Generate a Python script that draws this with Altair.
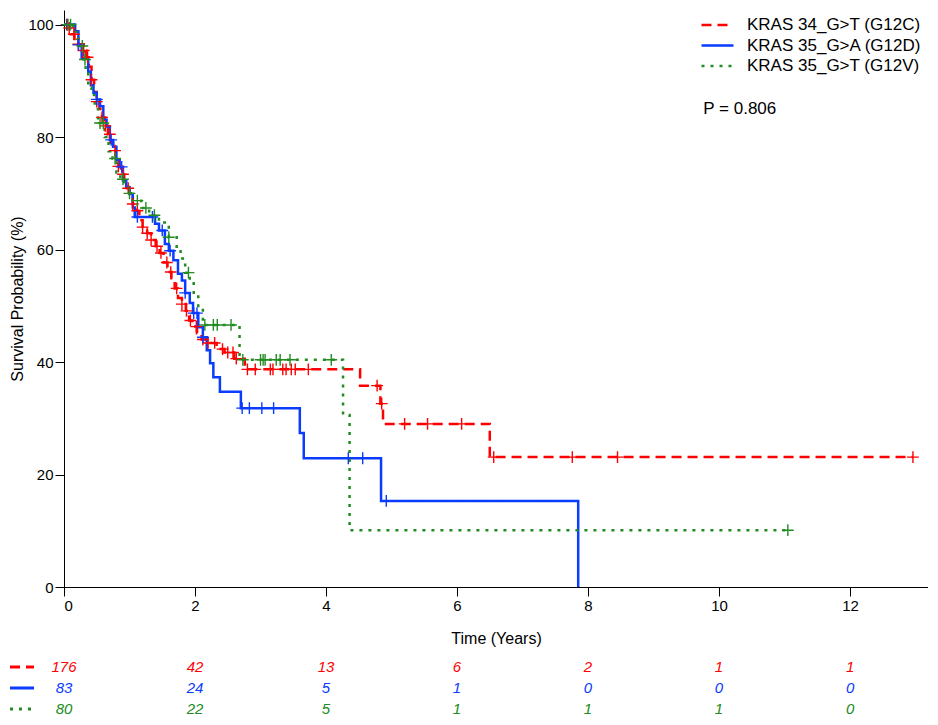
import altair as alt
import pandas as pd

groups = ["KRAS 34_G>T (G12C)", "KRAS 35_G>A (G12D)", "KRAS 35_G>T (G12V)"]
colors = ["#ff0000", "#0a3cff", "#228b22"]
dashes = [[10, 6], [1, 0], [3, 6]]

# Kaplan-Meier step points (time in years, survival %)
g12c_t = [0, 0.05, 0.1, 0.16, 0.22, 0.3, 0.34, 0.38, 0.42, 0.46, 0.5, 0.54, 0.58, 0.63, 0.67, 0.71, 0.75,
          0.79, 0.83, 0.87, 0.92, 0.96, 1.0, 1.05, 1.1, 1.15, 1.2, 1.27, 1.33, 1.4, 1.46, 1.52, 1.58, 1.64,
          1.69, 1.74, 1.8, 1.86, 1.91, 1.96, 2.03, 2.1, 2.2, 2.33, 2.45, 2.6, 2.76, 4.52, 4.83, 4.87, 6.5]
g12c_s = [100, 99.4, 98.3, 97.1, 96.5, 95.4, 94.2, 92.5, 90.2, 88.0, 86.3, 85.0, 83.5, 82.0, 80.5, 79.0, 77.6,
          76.2, 74.8, 73.4, 72.0, 70.9, 69.8, 68.1, 66.9, 65.2, 64.0, 62.9, 61.7, 60.6, 59.4, 57.7, 56.0, 54.9,
          53.1, 51.4, 50.3, 49.1, 47.4, 46.3, 45.1, 44.0, 43.4, 42.3, 41.7, 40.6, 38.7, 35.8, 32.6, 29.0, 23.1]
g12c_end = 12.96
g12c_cens = [0.04, 0.08, 0.15, 0.22, 0.3, 0.36, 0.42, 0.5, 0.58, 0.63, 0.7, 0.78, 0.83, 0.9, 0.98, 1.05,
             1.12, 1.2, 1.27, 1.33, 1.42, 1.48, 1.57, 1.63, 1.72, 1.8, 1.87, 1.93, 2.02, 2.12, 2.2, 2.3,
             2.42, 2.5, 2.58, 2.63, 2.8, 2.92, 3.15, 3.19, 3.34, 3.39, 3.47, 3.53, 3.73, 4.78, 4.85,
             5.2, 5.55, 6.07, 6.56, 7.76, 8.45, 12.96]

g12d_t = [0, 0.17, 0.22, 0.27, 0.37, 0.41, 0.45, 0.5, 0.55, 0.6, 0.65, 0.7, 0.75, 0.8, 0.85, 0.9, 0.95, 1.0,
          1.05, 1.08, 1.39, 1.45, 1.54, 1.6, 1.67, 1.74, 1.8, 1.85, 1.92, 1.97, 2.05, 2.12, 2.18, 2.23, 2.28,
          2.38, 2.7, 3.6, 3.66, 4.84, 7.85]
g12d_s = [100, 98.8, 96.4, 94, 91.6, 89.2, 87.9, 86.7, 85.5, 83.1, 81.9, 79.5, 78.3, 75.9, 74.7, 72.3, 71.1,
          69.9, 67.5, 65.8, 64.6, 63.4, 61, 59.8, 58.1, 55.7, 54.5, 52.3, 50.5, 48.7, 46.2, 44.4, 42.1, 39.8,
          37.3, 34.7, 31.8, 27.4, 22.9, 15.3, 0]
g12d_end = 7.85
g12d_cens = [0.05, 0.22, 0.5, 0.72, 0.88, 1.12, 1.35, 1.5, 1.62, 1.85, 1.98, 2.03, 2.12, 2.72, 2.83, 3.02,
             3.2, 4.34, 4.56, 4.92]

g12v_t = [0, 0.14, 0.2, 0.25, 0.3, 0.33, 0.37, 0.42, 0.47, 0.52, 0.62, 0.68, 0.74, 0.8, 0.86, 0.92, 0.98,
          1.05, 1.18, 1.3, 1.45, 1.6, 1.72, 1.78, 1.85, 1.92, 1.98, 2.05, 2.12, 2.68, 4.26, 4.36]
g12v_s = [100, 98.7, 97.5, 96.2, 93.8, 91.3, 88.8, 87.5, 85, 82.5, 80, 77.5, 76.2, 73.7, 72.5, 71.2, 70,
          68.7, 67.4, 66.1, 64.8, 62.2, 59.7, 58.4, 55.9, 54.6, 52.1, 49.6, 46.6, 40.4, 30.6, 10.1]
g12v_end = 11.05
g12v_cens = [0.06, 0.1, 0.28, 0.32, 0.55, 0.6, 0.78, 0.9, 1.0, 1.12, 1.25, 1.38, 1.6, 1.9, 2.15, 2.28,
             2.34, 2.55, 2.73, 3.0, 3.04, 3.07, 3.24, 3.3, 3.45, 4.08, 11.05]

risk_times = [0, 2, 4, 6, 8, 10, 12]
risk_g12c = [176, 42, 13, 6, 2, 1, 1]
risk_g12d = [83, 24, 5, 1, 0, 0, 0]
risk_g12v = [80, 22, 5, 1, 1, 1, 0]

p_label = "P = 0.806"

series = [(g12c_t, g12c_s, g12c_end, g12c_cens), (g12d_t, g12d_s, g12d_end, g12d_cens),
          (g12v_t, g12v_s, g12v_end, g12v_cens)]

line_rows, cens_rows = [], []
for g, (ts, ss, end, cens) in zip(groups, series):
    for i, (t, s) in enumerate(zip(ts, ss)):
        line_rows.append({"t": t, "s": s, "group": g, "o": i})
    if end > ts[-1]:
        line_rows.append({"t": end, "s": ss[-1], "group": g, "o": len(ts)})
    for c in cens:
        val = ss[0]
        for t, s in zip(ts, ss):
            if t <= c:
                val = s
        cens_rows.append({"t": c, "s": val, "group": g})

lines_df = pd.DataFrame(line_rows)
cens_df = pd.DataFrame(cens_rows)
risk_rows = []
for g, vals in zip(groups, [risk_g12c, risk_g12d, risk_g12v]):
    for t, v in zip(risk_times, vals):
        risk_rows.append({"t": t, "n": str(v), "group": g})
risk_df = pd.DataFrame(risk_rows)
sym_df = pd.DataFrame({"group": groups})

FONT = "Liberation Sans"
W, H = 864, 577
xscale = alt.Scale(domain=[0, 13.19], nice=False, zero=False)
yscale = alt.Scale(domain=[0, 102.6], nice=False)
cscale = alt.Scale(domain=groups, range=colors)
dscale = alt.Scale(domain=groups, range=dashes)

leg = alt.Legend(title=None, orient="none", legendX=636, legendY=6, symbolType="stroke",
                 symbolSize=1024, symbolStrokeWidth=2.5, labelFontSize=17, labelFont=FONT,
                 labelFontWeight="normal", labelLimit=400, clipHeight=18,
                 labelColor="black", rowPadding=2.5, labelOffset=12)

xaxis = alt.Axis(values=risk_times, title="Time (Years)", grid=False, tickSize=9, labelPadding=2,
                 titlePadding=17, format="d")
yaxis = alt.Axis(values=[0, 20, 40, 60, 80, 100], title="Survival Probability (%)", grid=False,
                 tickSize=9, labelPadding=2, titlePadding=2)

color_enc = alt.Color("group:N", scale=cscale, legend=leg)
dash_enc = alt.StrokeDash("group:N", scale=dscale, legend=leg)

lines = alt.Chart(lines_df).mark_line(interpolate="step-after", strokeWidth=2.5).encode(
    x=alt.X("t:Q", scale=xscale, axis=xaxis),
    y=alt.Y("s:Q", scale=yscale, axis=yaxis),
    color=color_enc,
    strokeDash=dash_enc,
    order="o:Q",
)

cens = alt.Chart(cens_df).mark_point(shape="M-1,0L1,0M0,-1L0,1", filled=False, strokeWidth=1.4,
                                     size=140, opacity=1).encode(
    x=alt.X("t:Q", scale=xscale),
    y=alt.Y("s:Q", scale=yscale),
    color=color_enc,
)

ptext = alt.Chart(pd.DataFrame({"label": [p_label]})).mark_text(
    align="left", baseline="middle", fontSize=17, font=FONT, color="black").encode(
    x=alt.datum(9.76), y=alt.datum(85.0), text="label:N")

top = alt.layer(lines, cens, ptext).properties(width=W, height=H)

rscale_y = alt.Scale(type="point", domain=groups, padding=0)
rtext = alt.Chart(risk_df).mark_text(fontStyle="italic", fontSize=15, font=FONT, baseline="middle").encode(
    x=alt.X("t:Q", scale=xscale, axis=None),
    y=alt.Y("group:N", scale=rscale_y, axis=None),
    text="n:N",
    color=color_enc,
)
rsym = alt.Chart(sym_df).mark_rule(strokeWidth=3).encode(
    x=alt.value(-54), x2=alt.value(-30),
    y=alt.Y("group:N", scale=rscale_y, axis=None),
    color=color_enc,
    strokeDash=dash_enc,
)
risk = alt.layer(rsym, rtext).properties(width=W, height=42)

chart = alt.vconcat(top, risk, spacing=14).properties(
    padding={"left": 0, "top": 2, "right": 0, "bottom": 0}
).configure_view(stroke=None).configure_axis(
    labelFont=FONT, titleFont=FONT, labelFontSize=15, titleFontSize=16, titleFontWeight="normal",
    labelColor="black", titleColor="black", domainColor="black", tickColor="black",
).configure_legend(labelFont=FONT)

chart.save("out.html", embed_options={"renderer": "svg", "actions": False})
